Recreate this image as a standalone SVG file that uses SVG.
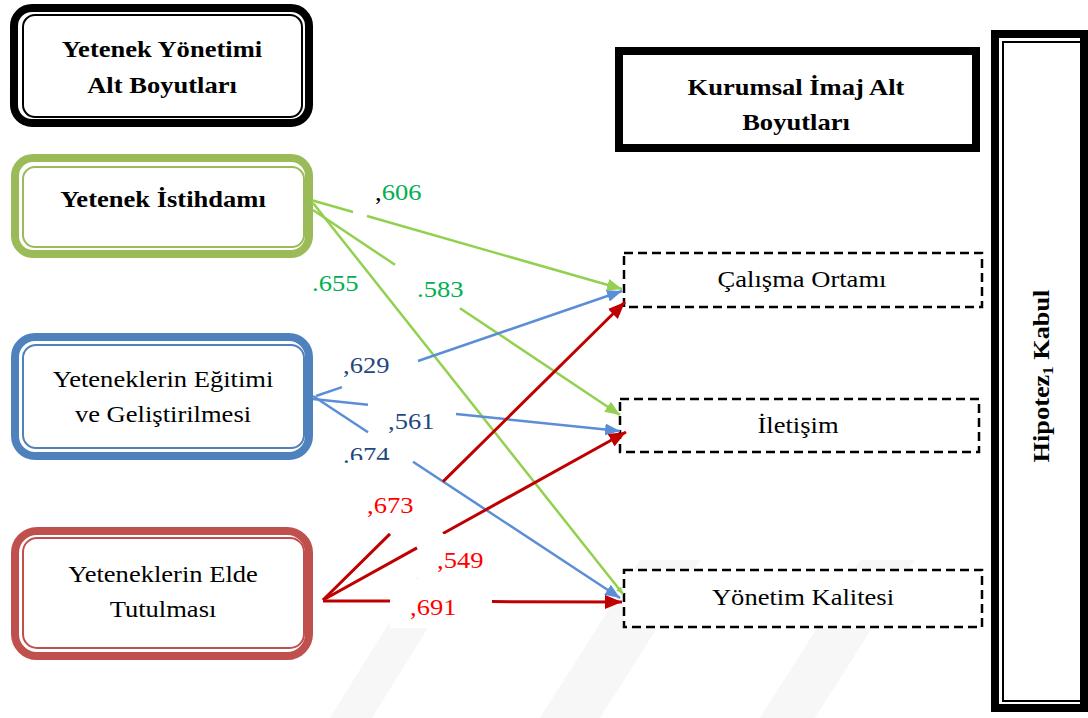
<svg xmlns="http://www.w3.org/2000/svg" width="1088" height="718" viewBox="0 0 1088 718" font-family="Liberation Serif, Times New Roman, serif">
  <style>
    text { font-family: 'Liberation Serif', 'Times New Roman', serif; font-size: 23.5px; fill: #000; }
    .b { font-weight: bold; }
    .c { text-anchor: middle; }
    .frame-k { fill: #fff; stroke: #000; stroke-width: 8; }
    .inner-k { fill: none; stroke: #000; stroke-width: 2; }
    .frame-g { fill: #fff; stroke: #9BBB59; stroke-width: 8; }
    .inner-g { fill: none; stroke: #9BBB59; stroke-width: 2; }
    .frame-bl { fill: #fff; stroke: #4F81BD; stroke-width: 8; }
    .inner-bl { fill: none; stroke: #4F81BD; stroke-width: 2; }
    .frame-r { fill: #fff; stroke: #C0504D; stroke-width: 8; }
    .inner-r { fill: none; stroke: #C0504D; stroke-width: 2; }
    .dash { fill: #fff; stroke: #000; stroke-width: 2.5; stroke-dasharray: 9 5; }
    .lg { fill: none; stroke: #92D050; stroke-width: 2.5; }
    .lb { fill: none; stroke: #5B8ED6; stroke-width: 2.5; }
    .lr { fill: none; stroke: #C00000; stroke-width: 3; }
    .tg { fill: #00B050; }
    .tb { fill: #1F497D; }
    .tr { fill: #FF0000; }
    .wm { fill: #f7f7f7; }
  </style>
  <defs>
    <marker id="ah-g" markerUnits="userSpaceOnUse" markerWidth="15" markerHeight="12" refX="15" refY="6" orient="auto">
      <path d="M0,0 L15,6 L0,12 z" fill="#92D050"/>
    </marker>
    <marker id="ah-g-s" markerUnits="userSpaceOnUse" markerWidth="7" markerHeight="6" refX="7" refY="3" orient="auto">
      <path d="M0,0 L7,3 L0,6 z" fill="#92D050"/>
    </marker>
    <marker id="ah-b" markerUnits="userSpaceOnUse" markerWidth="15" markerHeight="12" refX="15" refY="6" orient="auto">
      <path d="M0,0 L15,6 L0,12 z" fill="#5B8ED6"/>
    </marker>
    <marker id="ah-r" markerUnits="userSpaceOnUse" markerWidth="17" markerHeight="14" refX="17" refY="7" orient="auto">
      <path d="M0,0 L17,7 L0,14 z" fill="#C00000"/>
    </marker>
  </defs>

  <rect width="1088" height="718" fill="#fff"/>

  <!-- faint background stripes -->
  <g id="watermark">
    <polygon class="wm" points="330,718 372,718 470,560 428,560"/>
    <polygon class="wm" points="540,718 600,718 700,560 640,560"/>
    <polygon class="wm" points="760,718 815,718 915,560 860,560"/>
  </g>

  <!-- left column -->
  <g id="node-yonetim">
    <rect class="frame-k" x="14" y="8" width="295" height="115" rx="18"/>
    <rect class="inner-k" x="23" y="15" width="279" height="102" rx="12"/>
    <text class="b c" transform="matrix(1.13 0 0 1 162 0)" x="0" y="57">Yetenek Yönetimi</text>
    <text class="b c" transform="matrix(1.13 0 0 1 162 0)" x="0" y="93">Alt Boyutları</text>
  </g>

  <g id="node-istihdam">
    <rect class="frame-g" x="15" y="158" width="294" height="96" rx="18"/>
    <rect class="inner-g" x="23" y="167" width="281" height="80" rx="12"/>
    <text class="b c" transform="matrix(1.13 0 0 1 163 0)" x="0" y="207">Yetenek İstihdamı</text>
  </g>

  <g id="node-egitim">
    <rect class="frame-bl" x="15" y="337" width="294" height="119" rx="20"/>
    <rect class="inner-bl" x="23" y="345" width="281" height="103" rx="13"/>
    <text class="c" transform="matrix(1.13 0 0 1 163 0)" x="0" y="387">Yeteneklerin Eğitimi</text>
    <text class="c" transform="matrix(1.13 0 0 1 163 0)" x="0" y="422">ve Geliştirilmesi</text>
  </g>

  <g id="node-elde">
    <rect class="frame-r" x="15" y="531" width="294" height="125" rx="22"/>
    <rect class="inner-r" x="23" y="538" width="281" height="110" rx="14"/>
    <text class="c" transform="matrix(1.13 0 0 1 163 0)" x="0" y="582">Yeteneklerin Elde</text>
    <text class="c" transform="matrix(1.13 0 0 1 163 0)" x="0" y="617">Tutulması</text>
  </g>

  <!-- right column -->
  <g id="node-imaj">
    <rect class="frame-k" x="619" y="51" width="357" height="97"/>
    <text class="b c" transform="matrix(1.13 0 0 1 796 0)" x="0" y="95">Kurumsal İmaj Alt</text>
    <text class="b c" transform="matrix(1.13 0 0 1 796 0)" x="0" y="130">Boyutları</text>
  </g>

  <g id="node-calisma">
    <rect class="dash" x="624" y="253" width="358" height="54"/>
    <text class="c" transform="matrix(1.13 0 0 1 802 0)" x="0" y="287">Çalışma Ortamı</text>
  </g>

  <g id="node-iletisim">
    <rect class="dash" x="620" y="399" width="359" height="53"/>
    <text class="c" transform="matrix(1.13 0 0 1 798 0)" x="0" y="433">İletişim</text>
  </g>

  <g id="node-kalite">
    <rect class="dash" x="624" y="570" width="358" height="57"/>
    <text class="c" transform="matrix(1.13 0 0 1 803 0)" x="0" y="605">Yönetim Kalitesi</text>
  </g>

  <g id="node-hipotez">
    <rect class="frame-k" x="995" y="34" width="89" height="674"/>
    <rect class="inner-k" x="1003" y="42" width="79" height="659"/>
    <text class="b c" transform="translate(1049 376) rotate(-90) scale(1.12 1)" x="0" y="0">Hipotez<tspan font-size="15" dy="4">1</tspan><tspan dy="-4"> Kabul</tspan></text>
  </g>

  <!-- paths with breaks where the coefficient labels sit -->
  <g id="connectors">
    <path class="lg" d="M311,200 L353,212 M367,216 L622,289" marker-end="url(#ah-g)"/>
    <path class="lg" d="M313,210 L395,264.8 M460,308.2 L620,415" marker-end="url(#ah-g)"/>
    <path class="lg" d="M313,203 L623,594" marker-end="url(#ah-g-s)"/>
    <path class="lb" d="M316,396 L342,387.1 M418,361 L622,291" marker-end="url(#ah-b)"/>
    <path class="lb" d="M313,399 L368,404.7 M456,414 L620,431" marker-end="url(#ah-b)"/>
    <path class="lb" d="M313,396 L368,432.2 M413,461.8 L620,598" marker-end="url(#ah-b)"/>
    <path class="lr" d="M323,600 L390,533.9 M443,481.6 L625,302" marker-end="url(#ah-r)"/>
    <path class="lr" d="M323,600 L417,547.9 M443,533.5 L626,432" marker-end="url(#ah-r)"/>
    <path class="lr" d="M323,601 L390,601 M492,601.6 L622,602" marker-end="url(#ah-r)"/>
  </g>

  <!-- coefficient labels -->
  <g id="labels">
    <text transform="matrix(1.13 0 0 1 375 0)" x="0" y="200">,<tspan class="tg">606</tspan></text>
    <text class="tg" transform="matrix(1.13 0 0 1 312 0)" x="0" y="291">.655</text>
    <text class="tg" transform="matrix(1.13 0 0 1 417 0)" x="0" y="297">.583</text>
    <text class="tb" transform="matrix(1.13 0 0 1 343 0)" x="0" y="373">,629</text>
    <text class="tb" transform="matrix(1.13 0 0 1 388 0)" x="0" y="429">,561</text>
    <text class="tb" transform="matrix(1.13 0 0 1 343 0)" x="0" y="463">.674</text>
    <rect x="350" y="460" width="62" height="58" fill="#fff"/>
    <text class="tr" transform="matrix(1.13 0 0 1 367 0)" x="0" y="513">,673</text>
    <rect x="418" y="534" width="82" height="46" fill="#fff"/>
    <text class="tr" transform="matrix(1.13 0 0 1 437 0)" x="0" y="568">,549</text>
    <rect x="390" y="580" width="102" height="48" fill="#fff"/>
    <text class="tr" transform="matrix(1.13 0 0 1 410 0)" x="0" y="615">,691</text>
  </g>
</svg>
